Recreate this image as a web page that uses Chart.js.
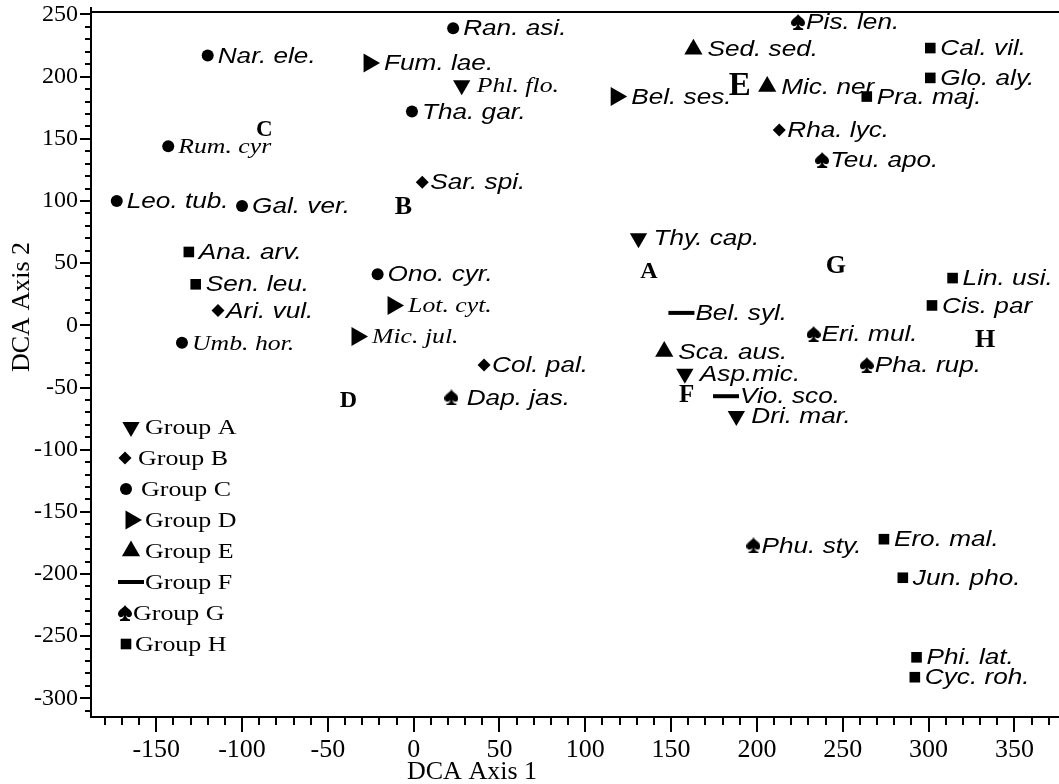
<!DOCTYPE html>
<html>
<head>
<meta charset="utf-8">
<script src="https://cdn.jsdelivr.net/npm/chart.js@4.4.0/dist/chart.umd.min.js"></script>
<style>
  html, body { margin: 0; padding: 0; background: #ffffff; }
  canvas { display: block; }
</style>
</head>
<body>
<canvas id="dca" width="1059" height="784"></canvas>
<script>
// ---- Species scores on DCA axes 1 and 2, one set of arrays per group ----
const groupA_species = ['Phl. flo.', 'Thy. cap.', 'Asp.mic.', 'Dri. mar.'];
const groupA_axis1   = [28, 131, 158, 188];
const groupA_axis2   = [193, 70, -39, -73];

const groupB_species = ['Sar. spi.', 'Ari. vul.', 'Col. pal.', 'Rha. lyc.'];
const groupB_axis1   = [5, -114, 41, 213];
const groupB_axis2   = [115, 12, -32, 157];

const groupC_species = ['Nar. ele.', 'Ran. asi.', 'Tha. gar.', 'Rum. cyr', 'Leo. tub.', 'Gal. ver.', 'Ono. cyr.', 'Umb. hor.'];
const groupC_axis1   = [-120, 23, -1, -143, -173, -100, -21, -135];
const groupC_axis2   = [217, 239, 172, 144, 100, 96, 41, -14];

const groupD_species = ['Fum. lae.', 'Bel. ses.', 'Lot. cyt.', 'Mic. jul.'];
const groupD_axis1   = [-26, 118, -12, -33];
const groupD_axis2   = [211, 184, 16, -9];

const groupE_species = ['Sed. sed.', 'Mic. ner', 'Sca. aus.'];
const groupE_axis1   = [163, 206, 146];
const groupE_axis2   = [222, 192, -21];

const groupF_species = ['Bel. syl.', 'Vio. sco.'];
const groupF_axis1   = [156, 182];
const groupF_axis2   = [10, -57];

const groupG_species = ['Pis. len.', 'Teu. apo.', 'Eri. mul.', 'Pha. rup.', ' Dap. jas.', 'Phu. sty.'];
const groupG_axis1   = [224, 238, 233, 264, 22, 198];
const groupG_axis2   = [244, 133, -7, -32, -58, -177];

const groupH_species = ['Cal. vil.', 'Glo. aly.', 'Pra. maj.', 'Ana. arv.', 'Sen. leu.', 'Lin. usi.', 'Cis. par', 'Ero. mal.', 'Jun. pho.', 'Phi. lat.', 'Cyc. roh.'];
const groupH_axis1   = [301, 301, 264, -131, -127, 314, 302, 274, 285, 293, 292];
const groupH_axis2   = [223, 199, 184, 59, 33, 38, 16, -172, -203, -267, -283];

// Group letters placed at the centre of each cluster
const clusterLetters = ['A', 'B', 'C', 'D', 'E', 'F', 'G', 'H'];
const clusterAxis1   = [137, -6, -87, -38, 190, 159, 246, 333];
const clusterAxis2   = [44, 96, 158, -60, 193, -56, 48, -11];

// Labelled tick values
const axis1TickLabels = [-150, -100, -50, 0, 50, 100, 150, 200, 250, 300, 350];
const axis2TickLabels = [250, 200, 150, 100, 50, 0, -50, -100, -150, -200, -250, -300];

// ---- Styling ----
const SANS = '"Liberation Sans", Arial, Helvetica, sans-serif';
const SERIF = '"Liberation Serif", "Times New Roman", Times, serif';
const serifNames = ['Phl. flo.', 'Rum. cyr', 'Lot. cyt.', 'Mic. jul.', 'Umb. hor.'];
const letterSizes = [24, 26, 23, 24, 33, 25, 26, 26];

// spade marker built on a small offscreen canvas
function makeSpade(w, h) {
  const c = document.createElement('canvas');
  c.width = w; c.height = h;
  const g = c.getContext('2d');
  const cx = w / 2;
  g.fillStyle = '#000';
  g.beginPath();
  g.moveTo(cx, 0);
  g.bezierCurveTo(cx + w * 0.08, h * 0.18, w, h * 0.30, w, h * 0.55);
  g.bezierCurveTo(w, h * 0.80, cx + w * 0.18, h * 0.82, cx + w * 0.07, h * 0.64);
  g.quadraticCurveTo(cx + w * 0.10, h * 0.88, cx + w * 0.36, h * 0.90);
  g.lineTo(cx + w * 0.36, h);
  g.lineTo(cx - w * 0.36, h);
  g.lineTo(cx - w * 0.36, h * 0.90);
  g.quadraticCurveTo(cx - w * 0.10, h * 0.88, cx - w * 0.07, h * 0.64);
  g.bezierCurveTo(cx - w * 0.18, h * 0.82, 0, h * 0.80, 0, h * 0.55);
  g.bezierCurveTo(0, h * 0.30, cx - w * 0.08, h * 0.18, cx, 0);
  g.closePath();
  g.fill();
  return c;
}
const spade = makeSpade(14, 16);

const GROUPS = [
  { key: 'A', species: groupA_species, x: groupA_axis1, y: groupA_axis2,
    style: { pointStyle: 'triangle', rotation: 180, radius: 10, borderWidth: 0 }, gap: 15, legendX: 131, legendGap: 14 },
  { key: 'B', species: groupB_species, x: groupB_axis1, y: groupB_axis2,
    style: { pointStyle: 'rectRot', rotation: 0, radius: 6.5, borderWidth: 0 }, gap: 8, legendX: 125, legendGap: 13 },
  { key: 'C', species: groupC_species, x: groupC_axis1, y: groupC_axis2,
    style: { pointStyle: 'circle', rotation: 0, radius: 6, borderWidth: 0 }, gap: 10, legendX: 126, legendGap: 15 },
  { key: 'D', species: groupD_species, x: groupD_axis1, y: groupD_axis2,
    style: { pointStyle: 'triangle', rotation: 90, radius: 11, borderWidth: 0 }, gap: 15, legendX: 131, legendGap: 14 },
  { key: 'E', species: groupE_species, x: groupE_axis1, y: groupE_axis2,
    style: { pointStyle: 'triangle', rotation: 0, radius: 10.5, borderWidth: 0 }, gap: 14, legendX: 131, legendGap: 14 },
  { key: 'F', species: groupF_species, x: groupF_axis1, y: groupF_axis2,
    style: { pointStyle: 'line', rotation: 0, radius: 13, borderWidth: 4 }, gap: 14, legendX: 131, legendGap: 14 },
  { key: 'G', species: groupG_species, x: groupG_axis1, y: groupG_axis2,
    style: { pointStyle: spade, rotation: 0, radius: 7, borderWidth: 0 }, gap: 8, legendX: 125, legendGap: 8 },
  { key: 'H', species: groupH_species, x: groupH_axis1, y: groupH_axis2,
    style: { pointStyle: 'rect', rotation: 0, radius: 7.5, borderWidth: 0 }, gap: 10, legendX: 126, legendGap: 9 }
];

const datasets = GROUPS.map(g => ({
  label: 'Group ' + g.key,
  data: g.x.map((v, i) => ({ x: v, y: g.y[i] })),
  names: g.species,
  labelGap: g.gap,
  pointStyle: g.style.pointStyle,
  rotation: g.style.rotation,
  pointRadius: g.style.radius,
  pointHoverRadius: g.style.radius,
  pointBorderWidth: g.style.borderWidth,
  backgroundColor: '#000',
  borderColor: '#000'
}));

// text drawn with a slight horizontal stretch
function stretchedText(ctx, text, x, y, font, sx, align) {
  ctx.save();
  ctx.translate(x, y);
  ctx.scale(sx, 1);
  ctx.font = font;
  ctx.fillStyle = '#000';
  ctx.textAlign = align || 'left';
  ctx.textBaseline = 'middle';
  ctx.fillText(text, 0, 0);
  ctx.restore();
}

const speciesLabels = {
  id: 'speciesLabels',
  afterDatasetsDraw(chart) {
    const ctx = chart.ctx;
    chart.data.datasets.forEach((ds, i) => {
      const meta = chart.getDatasetMeta(i);
      meta.data.forEach((pt, j) => {
        const name = ds.names[j];
        const serif = serifNames.includes(name.trim());
        const font = 'italic 22px ' + (serif ? SERIF : SANS);
        stretchedText(ctx, name, pt.x + ds.labelGap, pt.y + 1, font, serif ? 1.17 : 1.19);
      });
    });
    // cluster letters
    const xs = chart.scales.x, ys = chart.scales.y;
    clusterLetters.forEach((L, i) => {
      ctx.save();
      ctx.font = 'bold ' + letterSizes[i] + 'px ' + SERIF;
      ctx.fillStyle = '#000';
      ctx.textAlign = 'center';
      ctx.textBaseline = 'middle';
      ctx.fillText(L, xs.getPixelForValue(clusterAxis1[i]), ys.getPixelForValue(clusterAxis2[i]) + 1);
      ctx.restore();
    });
  }
};

const groupLegend = {
  id: 'groupLegend',
  afterDraw(chart) {
    const ctx = chart.ctx;
    const top = 427, step = 31;
    GROUPS.forEach((g, i) => {
      const y = top + i * step;
      ctx.save();
      ctx.fillStyle = '#000';
      ctx.strokeStyle = '#000';
      ctx.lineWidth = g.style.borderWidth;
      Chart.helpers.drawPoint(ctx, {
        pointStyle: g.style.pointStyle,
        rotation: g.style.rotation,
        radius: g.style.radius,
        borderWidth: g.style.borderWidth
      }, g.legendX, y);
      ctx.restore();
      stretchedText(ctx, 'Group ' + g.key, g.legendX + g.legendGap, y + 1, '22px ' + SERIF, 1.18);
    });
  }
};

// major / minor tick marks and axis titles
const axisDecor = {
  id: 'axisDecor',
  afterDraw(chart) {
    const ctx = chart.ctx;
    const xs = chart.scales.x, ys = chart.scales.y;
    const area = chart.chartArea;
    ctx.save();
    ctx.strokeStyle = '#000';
    ctx.lineWidth = 2;
    ctx.beginPath();
    xs.ticks.forEach(t => {
      const px = Math.round(xs.getPixelForValue(t.value));
      const len = axis1TickLabels.includes(t.value) ? 15 : 8;
      ctx.moveTo(px, area.bottom);
      ctx.lineTo(px, area.bottom + len);
    });
    ys.ticks.forEach(t => {
      const py = Math.round(ys.getPixelForValue(t.value));
      const len = axis2TickLabels.includes(t.value) ? 11 : 6;
      ctx.moveTo(area.left, py);
      ctx.lineTo(area.left - len, py);
    });
    // the left axis line runs a little past the top frame
    ctx.moveTo(area.left, area.top);
    ctx.lineTo(area.left, area.top - 5);
    ctx.stroke();
    ctx.restore();

    ctx.save();
    ctx.font = '26px ' + SERIF;
    ctx.fillStyle = '#000';
    ctx.textAlign = 'center';
    ctx.textBaseline = 'middle';
    ctx.fillText('DCA Axis 1', 472, 772);
    ctx.translate(22, 307);
    ctx.rotate(-Math.PI / 2);
    ctx.fillText('DCA Axis 2', 0, 0);
    ctx.restore();
  }
};

new Chart(document.getElementById('dca'), {
  type: 'scatter',
  data: { datasets },
  options: {
    responsive: false,
    animation: false,
    events: [],
    layout: { autoPadding: false, padding: 0 },
    plugins: { legend: { display: false }, tooltip: { enabled: false } },
    scales: {
      x: {
        type: 'linear',
        position: 'bottom',
        min: -188,
        max: 376,
        grid: { display: false, drawTicks: false },
        border: { display: true, color: '#000', width: 2 },
        ticks: {
          stepSize: 10,
          includeBounds: false,
          autoSkip: false,
          maxRotation: 0,
          padding: 18,
          color: '#000',
          font: { family: SERIF, size: 26 },
          callback: v => axis1TickLabels.includes(v) ? String(v) : ''
        },
        afterFit: s => { s.height = 67; s.paddingLeft = 0; s.paddingRight = 0; }
      },
      xTop: {
        type: 'linear',
        axis: 'x',
        position: 'top',
        min: -188,
        max: 376,
        grid: { display: false, drawTicks: false },
        border: { display: true, color: '#000', width: 2 },
        ticks: { display: false },
        afterFit: s => { s.height = 12; s.paddingLeft = 0; s.paddingRight = 0; }
      },
      y: {
        type: 'linear',
        position: 'left',
        min: -315,
        max: 252,
        grid: { display: false, drawTicks: false },
        border: { display: true, color: '#000', width: 2 },
        ticks: {
          stepSize: 10,
          includeBounds: false,
          autoSkip: false,
          padding: 13,
          color: '#000',
          font: { family: SERIF, size: 24 },
          callback: v => axis2TickLabels.includes(v) ? String(v) : ''
        },
        afterFit: s => { s.width = 91; s.paddingTop = 0; s.paddingBottom = 0; }
      }
    }
  },
  plugins: [speciesLabels, groupLegend, axisDecor]
});
</script>
</body>
</html>
